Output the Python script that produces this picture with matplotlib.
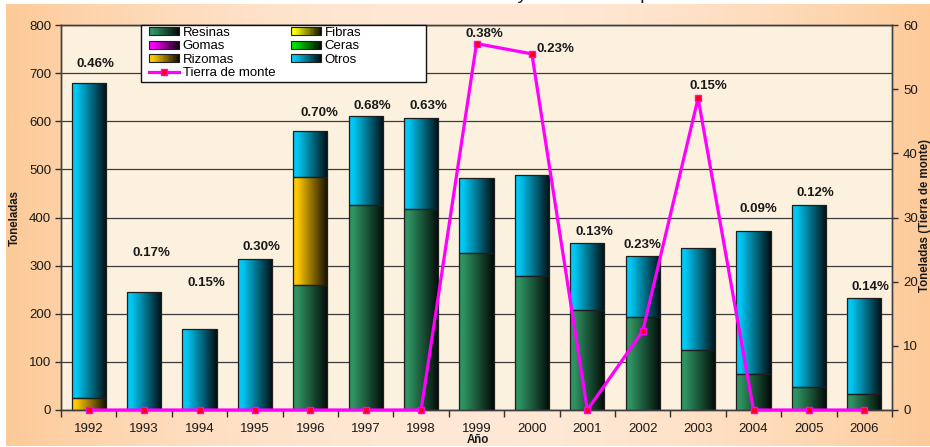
import numpy as np
import matplotlib
matplotlib.use("Agg")
import matplotlib.pyplot as plt
from matplotlib.colors import to_rgb
from matplotlib.legend_handler import HandlerBase
from matplotlib.patches import Rectangle
from matplotlib.lines import Line2D
from matplotlib.font_manager import FontProperties

plt.rcParams["font.family"] = ["Liberation Sans", "DejaVu Sans"]

# ---- data -----------------------------------------------------------------
years = ["1992", "1993", "1994", "1995", "1996", "1997", "1998", "1999",
         "2000", "2001", "2002", "2003", "2004", "2005", "2006"]
resinas = [0, 0, 0, 0, 259, 425, 418, 326, 279, 208, 193, 124, 75, 47, 33]
gomas = [0] * 15
rizomas = [24, 0, 0, 0, 226, 0, 0, 0, 0, 0, 0, 0, 0, 0, 0]
fibras = [0] * 15
ceras = [0] * 15
otros = [655, 245, 168, 313, 95, 185, 188, 156, 209, 140, 126, 212, 296, 379, 199]
tierra_de_monte = [0, 0, 0, 0, 0, 0, 0, 57.1, 55.5, 0, 12.3, 48.6, 0, 0, 0]
porcentajes = ["0.46%", "0.17%", "0.15%", "0.30%", "0.70%", "0.68%", "0.63%",
               "0.38%", "0.23%", "0.13%", "0.23%", "0.15%", "0.09%", "0.12%",
               "0.14%"]

# label placement (pixel offsets from the bar top / line marker)
label_offsets = [(7, 19), (7, 39), (7, 46), (7, 12), (9, 18), (7, 10), (7, 12),
                 (8, 10), (24, 5), (7, 11), (0, 11), (10, 12), (5, 22), (6, 12),
                 (6, 11)]

series = [
    ("Resinas", resinas, "#2F9362"),
    ("Gomas", gomas, "#FF00FF"),
    ("Rizomas", rizomas, "#FFC800"),
    ("Fibras", fibras, "#FFFF00"),
    ("Ceras", ceras, "#00E000"),
    ("Otros", otros, "#00C8F5"),
]
LINE_COLOR = "#FF00FF"
EDGE = "#1E1E1E"


def shade(color, n=64):
    """Horizontal light-to-dark ramp used to fill the bars."""
    t = np.linspace(0, 1, n)
    f = np.where(t < 0.12, 1.0, 1 - (t - 0.12) / 0.88 * 0.93)
    rgb = np.array(to_rgb(color))
    return f[:, None] * rgb[None, :]


class GradientHandler(HandlerBase):
    def __init__(self, color):
        super().__init__()
        self.color = color

    def create_artists(self, legend, orig_handle, xdescent, ydescent, width,
                       height, fontsize, trans):
        n = 24
        cols = shade(self.color, n)
        arts = []
        for i in range(n):
            r = Rectangle((-xdescent + i * width / n, -ydescent), width / n + 0.3,
                          height, facecolor=cols[i], edgecolor="none",
                          transform=trans)
            arts.append(r)
        arts.append(Rectangle((-xdescent, -ydescent), width, height,
                              facecolor="none", edgecolor=EDGE, lw=0.8,
                              transform=trans))
        return arts


W, H = 930, 447
fig = plt.figure(figsize=(W / 100, H / 100), dpi=100, facecolor="white")

# peach backdrop
bg = fig.add_axes([6 / W, 1 / H, 924 / W, 442 / H], zorder=0)
xs = np.linspace(0, 1, 400)
wgt = np.sin(np.pi * xs) ** 0.9
c_edge = np.array(to_rgb("#FDCA98"))
c_mid = np.array(to_rgb("#FFE9D6"))
grad = c_edge[None, :] * (1 - wgt[:, None]) + c_mid[None, :] * wgt[:, None]
bg.imshow(grad[None, :, :], aspect="auto", extent=(0, 1, 0, 1))
bg.set_axis_off()

ax = fig.add_axes([61 / W, 1 - 410 / H, 831 / W, 385 / H], zorder=1)
ax.set_facecolor("#FBF1DE")

x = np.arange(len(years))
width = 0.62
bottom = np.zeros(len(years))
for name, vals, color in series:
    vals = np.array(vals, dtype=float)
    m = vals > 0
    if m.any():
        bars = ax.bar(x[m], vals[m], width, bottom=bottom[m], color=color,
                      edgecolor="none", zorder=2)
        for p in bars:
            x0, y0 = p.get_x(), p.get_y()
            im = ax.imshow(shade(color)[None, :, :],
                           extent=(x0, x0 + p.get_width(), y0, y0 + p.get_height()),
                           aspect="auto", zorder=2.1, interpolation="bilinear")
            im.set_clip_path(p)
        ax.bar(x[m], vals[m], width, bottom=bottom[m], fill=False,
               edgecolor=EDGE, lw=0.9, zorder=2.2)
    bottom += vals
totals = bottom.copy()

ax.set_xlim(-0.5, len(years) - 0.5)
ax.set_ylim(0, 800)
ax.set_yticks(range(0, 801, 100))
ax.grid(axis="y", color="#3C3C3C", lw=0.9)
ax.set_axisbelow(True)
ax.set_xticks(x)
ax.set_xticklabels(years)
ax.set_xticks(np.arange(-0.5, len(years), 1), minor=True)
ax.tick_params(axis="x", which="major", length=0, pad=9, labelsize=9.5,
               colors="#1A1A1A")
ax.tick_params(axis="x", which="minor", length=5, direction="out",
               color="#303030", width=1)
ax.tick_params(axis="y", length=4, direction="out", labelsize=9.5, pad=3,
               color="#303030", width=1, labelcolor="#1A1A1A")
for s in ax.spines.values():
    s.set_color("#404040")
    s.set_linewidth(1)

ax2 = ax.twinx()
ax2.set_ylim(0, 60)
ax2.set_yticks(range(0, 61, 10))
ax2.tick_params(axis="y", length=4, direction="out", labelsize=9.5, pad=4,
                color="#303030", width=1, labelcolor="#1A1A1A")
for s in ax2.spines.values():
    s.set_color("#404040")
    s.set_linewidth(1)
ax2.plot(x, tierra_de_monte, color=LINE_COLOR, lw=2.3, marker="s", ms=5,
         mfc="#FF0000", mec=LINE_COLOR, mew=1.0, zorder=5, clip_on=False)

# percentage labels: on the line marker where it rises above the bar
for i, txt in enumerate(porcentajes):
    dx, dy = label_offsets[i]
    on_line = tierra_de_monte[i] / 60 * 800 > totals[i]
    if on_line:
        anchor, tr = (x[i], tierra_de_monte[i]), ax2.transData
    else:
        anchor, tr = (x[i], totals[i]), ax.transData
    ax2.annotate(txt, xy=anchor, xycoords=tr, xytext=(dx, dy),
                 textcoords="offset pixels", ha="center", va="center",
                 fontsize=9.5, fontweight="bold", color="#1A1A1A", zorder=6)

# legend
fig.patches.append(Rectangle((141 / W, 1 - 82 / H), 285 / W, 57 / H,
                             transform=fig.transFigure, facecolor="white",
                             edgecolor="#101010", lw=1.0, zorder=3))
handles, labels, hmap = [], [], {}
for name, vals, color in series:
    h = Rectangle((0, 0), 1, 1, facecolor=color)
    hmap[h] = GradientHandler(color)
    handles.append(h)
    labels.append(name)
line_h = Line2D([], [], color=LINE_COLOR, lw=2.3, marker="s", ms=5,
                mfc="#FF0000", mec=LINE_COLOR)
order = [0, 1, 2, None, 3, 4, 5]
lh = [line_h if k is None else handles[k] for k in order]
ll = ["Tierra de monte" if k is None else labels[k] for k in order]
leg = fig.legend(lh, ll, handler_map=hmap, ncol=2, loc="upper left",
                 bbox_to_anchor=(149 / W, 1 - 27 / H), frameon=False,
                 fontsize=9.5, handlelength=2.3, handleheight=0.55,
                 labelspacing=0.1, handletextpad=0.25, columnspacing=1.2,
                 borderpad=0, borderaxespad=0, numpoints=1)
leg.set_zorder(4)

# axis titles
fig.text(15 / W, 1 - 218 / H, "Toneladas", rotation=90, ha="center",
         va="center", fontsize=8.3, fontweight="bold", color="#1A1A1A")
fig.text(924.5 / W, 1 - 216 / H, "Toneladas (Tierra de monte)", rotation=90,
         ha="center", va="center", fontsize=8.3, fontweight="bold",
         color="#1A1A1A")
fig.text(478 / W, 1 - 440 / H, "Año", ha="center", va="center", fontsize=8.3,
         fontweight="bold", color="#1A1A1A")

# chart title, mostly above the top edge
title = "Producción forestal no maderable y monto de exportación"
fp = FontProperties(family=["Liberation Sans"], size=14)
renderer = fig.canvas.get_renderer()
prefix = title[:title.index(" y ") + 1]
pw = renderer.get_text_width_height_descent(prefix, fp, ismath=False)[0]
fig.text((517 - pw) / W, 1 + 1 / H, title, fontproperties=fp, ha="left",
         va="baseline", color="#1A1A1A")

fig.savefig("out.png", dpi=100, facecolor="white")
